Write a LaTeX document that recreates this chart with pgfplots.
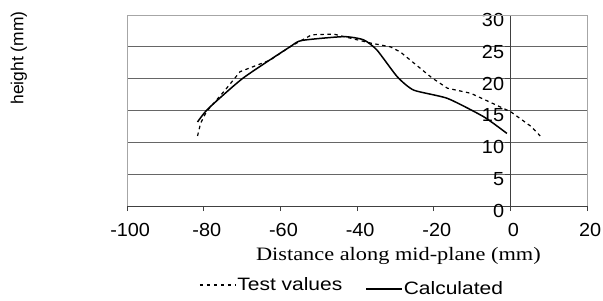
\documentclass[border=0pt]{standalone}
\usepackage{fontspec}
\setmainfont{Liberation Sans}
\newfontfamily\serifx{Liberation Serif}
\usepackage{graphicx}
\usepackage{pgfplots}
\pgfplotsset{compat=1.18}
\pgfplotstableread{
x y
-81.6 11.0
-80.8 13.0
-79.3 14.8
-74.0 18.5
-70.5 21.1
-62.7 22.9
-57.5 25.0
-51.8 26.9
-46.1 27.0
-36.5 25.6
-31.3 25.0
-28.7 24.2
-20.4 20.1
-16.4 18.5
-10.3 17.7
0.1 14.8
5.4 12.5
7.8 11.0
}\testdata
\pgfplotstableread{
x y
-81.6 13.2
-78.8 15.3
-69.7 20.1
-57.5 25.0
-54.4 26.0
-43.5 26.6
-38.3 26.1
-34.8 24.5
-29.5 20.3
-25.2 18.2
-16.4 16.9
-6.9 14.0
-0.9 11.4
}\calcdata
\begin{document}
\begin{tikzpicture}[x=1bp,y=1bp]
\path[use as bounding box] (0,0) rectangle (603,300);
\begin{axis}[
  at={(127bp,94bp)}, anchor=south west,
  scale only axis, width=460bp, height=191bp,
  xmin=-100, xmax=20, ymin=0, ymax=30,
  axis x line=bottom, axis y line=middle,
  axis line style={-, black!75, line width=0.8bp},
  hide obscured x ticks=false, hide obscured y ticks=false,
  xtick={-100,-80,-60,-40,-20,0,20},
  xticklabels={-100,-80,-60,-40,-20,0,20},
  ytick={0,5,10,15,20,25,30},
  yticklabels={0,5,10,15,20,25,30},
  tick align=outside, major tick length=5bp,
  tick style={black!75, line width=0.8bp},
  ymajorgrids, grid style={black!60, line width=0.9bp},
  xticklabel style={font=\fontsize{19}{19}\selectfont, xscale=1.05, anchor=north, yshift=-9bp, xshift=3bp},
  yticklabel style={font=\fontsize{19}{19}\selectfont, xscale=1.05, anchor=east, inner sep=1bp, yshift=-5bp},
  xlabel={\serifx\scalebox{1.18}[1]{Distance along mid-plane (mm)}},
  xlabel style={font=\fontsize{19}{19}\selectfont, at={(axis description cs:0.59,-0.262)}, anchor=center},
  ylabel={height (mm)},
  ylabel style={font=\fontsize{17.5}{17.5}\selectfont, at={(axis description cs:-0.235,0.775)}, anchor=center, rotate=90},
  legend style={at={(axis description cs:0.1565,-0.414)}, anchor=west, draw=none, fill=none,
    legend columns=2, inner sep=0pt, font=\fontsize{18}{18}\selectfont,
    /tikz/every even column/.append style={column sep=22bp}, nodes={inner sep=1bp}},
  legend image code/.code={\draw[#1] (0bp,0bp) -- (36bp,0bp);},
  clip=false,
]
\addplot[black, line width=1.2bp, dash pattern=on 3.5bp off 3.5bp] table[x=x,y=y] {\testdata};
\addlegendentry{\scalebox{1.17}[1]{Test values}}
\addplot[black, line width=1.5bp, smooth, tension=0.35, legend image post style={yshift=-4bp}] table[x=x,y=y] {\calcdata};
\addlegendentry{\raisebox{-8bp}{\scalebox{1.17}[1]{Calculated}}}
\draw[gray!70, line width=0.8bp] (rel axis cs:0,0) -- (rel axis cs:0,1) -- (rel axis cs:1,1) -- (rel axis cs:1,0);
\end{axis}
\end{tikzpicture}
\end{document}
